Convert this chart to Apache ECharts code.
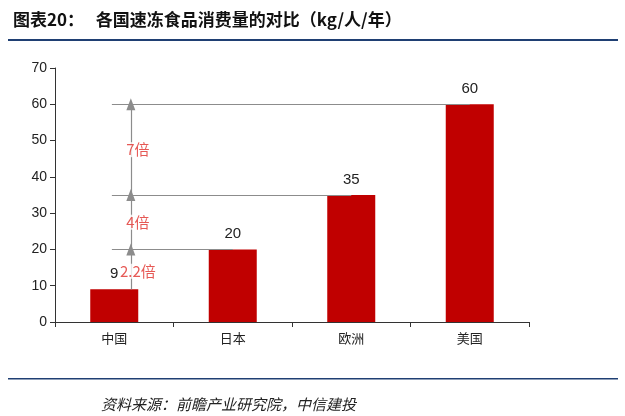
<!DOCTYPE html>
<html><head><meta charset="utf-8">
<script src="https://cdn.jsdelivr.net/npm/echarts@6/dist/echarts.min.js"></script>
<style>body{margin:0;background:#fff}#c{width:625px;height:416px}</style>
</head><body><div id="c"></div>
<script>
const categories=['中国','日本','欧洲','美国'];
const values=[9,20,35,60];
const yTicks=[0,70,10];
const refLevels=[20,35,60];      // horizontal reference lines
const refEnds=[1,2,3];           // category index where each line ends
const arrowFrom=[9,20,35];
const arrowTo=[20,35,60];
const ratioLabels=['2.2倍','4倍','7倍'];
const ratioY=[14,27.5,47.5];

const chart=echarts.init(document.getElementById('c'));
const gray='#8c8c8c';
const hLines=refLevels.map((v,i)=>[{coord:[-0.02,v]},{coord:[refEnds[i],v],symbol:'none'}]);
const arrows=arrowFrom.map((v,i)=>[{coord:[0.14,v]},{coord:[0.14,arrowTo[i]]}]);
chart.setOption({
  animation:false,
  title:[{text:'图表20：   各国速冻食品消费量的对比（kg/人/年）',left:8,top:6,
    textStyle:{fontFamily:'Noto Sans CJK SC',fontSize:17,fontWeight:'bold',color:'#111'}},
    {text:'资料来源：前瞻产业研究院，中信建投',left:96,top:392,
    textStyle:{fontFamily:'Noto Sans CJK SC',fontSize:15,fontStyle:'italic',fontWeight:'normal',color:'#222'}}],
  graphic:[{type:'rect',shape:{x:8,y:39,width:610,height:2},style:{fill:'#1f3f73'}},
           {type:'rect',shape:{x:8,y:378,width:610,height:1.5},style:{fill:'#1f3f73'}}],
  grid:{left:55,right:96,top:68,bottom:94},
  xAxis:[{type:'category',data:categories,axisTick:{show:true,lineStyle:{color:'#333'}},
    axisLine:{lineStyle:{color:'#333'}},axisLabel:{color:'#222',fontSize:13,margin:10,fontFamily:'Noto Sans CJK SC'}},
    {type:'value',min:-0.5,max:3.5,show:false,axisLine:{onZero:false}}],
  yAxis:{type:'value',min:yTicks[0],max:yTicks[1],interval:yTicks[2],splitLine:{show:false},
    axisLine:{show:true,onZero:false,lineStyle:{color:'#333'}},axisTick:{show:true,lineStyle:{color:'#333'}},
    axisLabel:{color:'#222',fontSize:14}},
  series:[
    {type:'bar',data:values,barWidth:48,itemStyle:{color:'#c00000'},
     label:{show:true,position:'top',color:'#222',fontSize:15,distance:8}},
    {type:'scatter',xAxisIndex:1,symbolSize:0,data:ratioY.map((y,i)=>[0.2,y]),
     label:{show:true,position:'inside',formatter:p=>ratioLabels[p.dataIndex],color:'#e0302a',fontSize:15,
       backgroundColor:'#fff',fontFamily:'Noto Sans CJK SC'},
     markLine:{silent:true,symbol:['none','triangle'],symbolSize:[9,12],lineStyle:{color:gray,width:1.2,type:'solid'},label:{show:false},
       data:arrows.concat(hLines)},
     z:5}
  ]
});
</script></body></html>
